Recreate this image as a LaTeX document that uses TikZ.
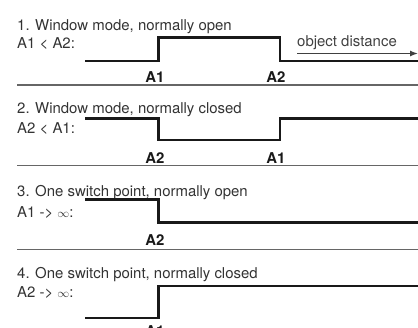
\documentclass[tikz,border=0pt]{standalone}
\usepackage{fontspec}
\setmainfont{TeX Gyre Heros}
\usetikzlibrary{arrows.meta}
\newcommand{\smallinf}{{\fontsize{12}{14}\selectfont$\infty$}}
\begin{document}
\begin{tikzpicture}[x=1bp,y=-1bp,
  txt/.style={anchor=base west, inner sep=0pt, text=black!80, font=\fontsize{15}{18}\selectfont},
  lbl/.style={anchor=base, inner sep=0pt, text=black!90, font=\fontsize{15}{18}\selectfont\bfseries},
  sig/.style={line width=2.6bp, black!90, line join=miter},
  sep/.style={line width=1.4bp, black!60},
  axis/.style={line width=1.3bp, black!75, -{Latex[length=8bp,width=6bp]}},
]
\useasboundingbox (0,0) rectangle (418,328);

% 1. window mode, normally open
\node[txt] (t1) at (17,30) {1. Window mode, normally open};
\node[txt] (c1) at (17,48) {A1 < A2:};
\draw[sig] (85,61) -- (158.5,61) -- (158.5,37.5) -- (280,37.5) -- (280,61) -- (420,61);
\node[txt, text=black!75] (od) at (297,46) {object distance};
\coordinate (odS) at (297,53.5);
\coordinate (odE) at (418,53.5);
\draw[axis] (odS) -- (odE);
\node[lbl] (l1a) at (155,82) {A1};
\node[lbl] (l1b) at (276,82) {A2};
\draw[sep] (17,85) -- (420,85);

% 2. window mode, normally closed
\node[txt] (t2) at (17,113) {2. Window mode, normally closed};
\node[txt] (c2) at (17,133) {A2 < A1:};
\draw[sig] (85,118.5) -- (158.5,118.5) -- (158.5,140) -- (280,140) -- (280,118.5) -- (420,118.5);
\node[lbl] (l2a) at (155,163) {A2};
\node[lbl] (l2b) at (276,163) {A1};
\draw[sep] (17,165.5) -- (420,165.5);

% 3. one switch point, normally open
\node[txt] (t3) at (17,196) {3. One switch point, normally open};
\node[txt] (c3) at (17,217) {A1 -> \smallinf:};
\draw[sig] (85,199.5) -- (158.5,199.5) -- (158.5,222.5) -- (420,222.5);
\node[lbl] (l3a) at (155,245) {A2};
\draw[sep] (17,249.5) -- (420,249.5);

% 4. one switch point, normally closed
\node[txt] (t4) at (17,278) {4. One switch point, normally closed};
\node[txt] (c4) at (17,297) {A2 -> \smallinf:};
\draw[sig] (85,318) -- (158.5,318) -- (158.5,286) -- (420,286);
\node[lbl] (l4a) at (155,336) {A1};
\end{tikzpicture}
\end{document}
